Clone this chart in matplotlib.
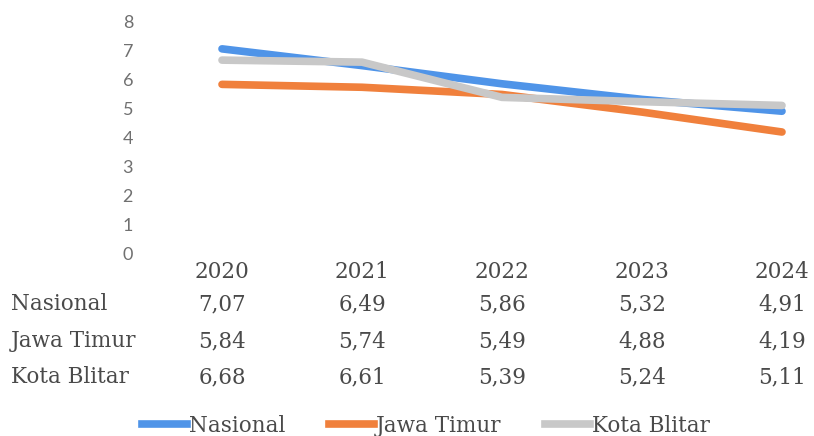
import matplotlib
matplotlib.use("Agg")
import matplotlib.pyplot as plt
from matplotlib.transforms import blended_transform_factory
from matplotlib.lines import Line2D

years = ["2020", "2021", "2022", "2023", "2024"]
nasional = [7.07, 6.49, 5.86, 5.32, 4.91]
jawa_timur = [5.84, 5.74, 5.49, 4.88, 4.19]
kota_blitar = [6.68, 6.61, 5.39, 5.24, 5.11]

series = [
    ("Nasional", nasional, "#4F94E8"),
    ("Jawa Timur", jawa_timur, "#F0803C"),
    ("Kota Blitar", kota_blitar, "#C8C8C8"),
]

W, H = 814, 436
fig = plt.figure(figsize=(W / 100, H / 100), dpi=100)
ax = fig.add_axes([140 / W, 1 - 253 / H, (W - 140) / W, (253 - 22) / H])

x = list(range(len(years)))
for name, vals, col in series:
    ax.plot(x, vals, color=col, lw=5.5, solid_capstyle="round",
            solid_joinstyle="round", label=name)

ax.set_ylim(0, 8)
ax.set_xlim(-82 / 140, 4 + 32 / 140)
ax.set_yticks(range(0, 9))
ax.tick_params(axis="y", length=0, pad=5, labelsize=13, labelcolor="#707070")
for lab in ax.get_yticklabels():
    lab.set_family("Lato")
ax.set_xticks([])
for s in ax.spines.values():
    s.set_visible(False)

# data table under the chart
tr = blended_transform_factory(ax.transData, fig.transFigure)
serif = "DejaVu Serif"
tcol = "#4A4A4A"
fs = 15.5
for i, yr in enumerate(years):
    fig.text(i, 1 - 272 / H, yr, transform=tr, ha="center", va="center",
             fontsize=fs, family=serif, color=tcol)
row_y = [304, 341, 377]
for (name, vals, col), ry in zip(series, row_y):
    fig.text(11 / W, 1 - ry / H, name, ha="left", va="center",
             fontsize=fs, family=serif, color=tcol)
    for i, v in enumerate(vals):
        fig.text(i, 1 - ry / H, f"{v:.2f}".replace(".", ","), transform=tr,
                 ha="center", va="center", fontsize=fs, family=serif, color=tcol)

handles = [Line2D([], [], color=c, lw=5.5) for _, _, c in series]
fig.legend(handles, [n for n, _, _ in series], loc="center",
           bbox_to_anchor=(426 / W, 1 - 426 / H), ncol=3, frameon=False,
           prop={"family": serif, "size": fs}, handlelength=2.1,
           handletextpad=0.1, columnspacing=2.0, labelcolor=tcol)

fig.savefig("out.png", dpi=100, facecolor="white")
